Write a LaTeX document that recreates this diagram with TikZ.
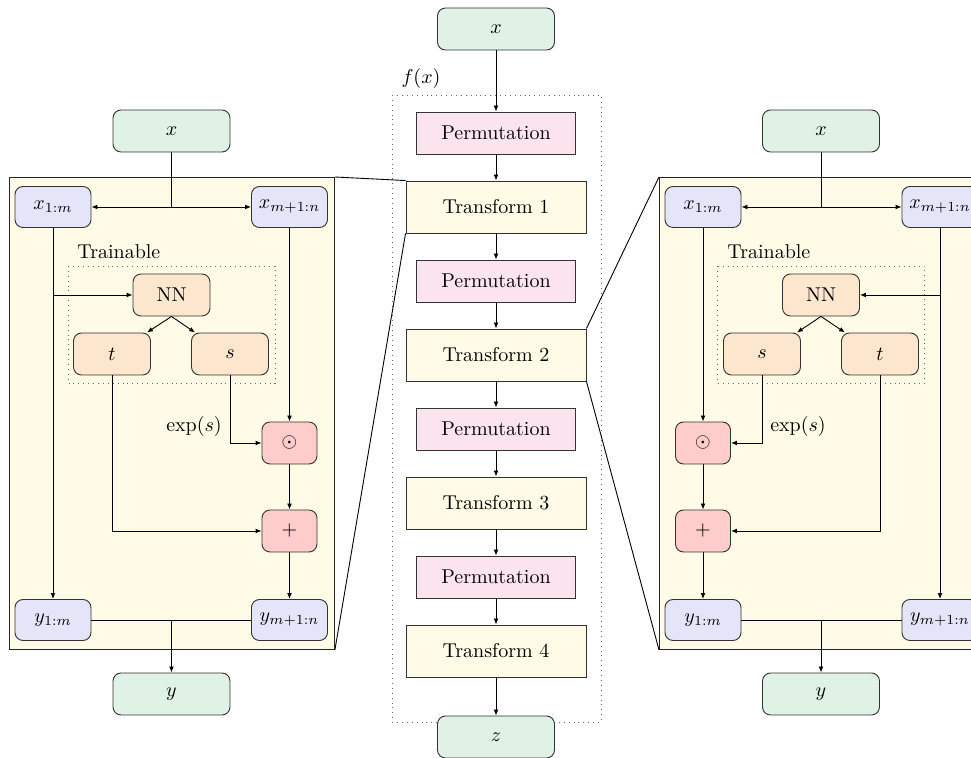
\documentclass[tikz,border=0pt]{standalone}
\usetikzlibrary{arrows.meta,calc}
\definecolor{iogreen}{RGB}{224,241,229}
\definecolor{varblue}{RGB}{229,229,250}
\definecolor{nnorange}{RGB}{253,230,206}
\definecolor{opred}{RGB}{255,204,204}
\definecolor{permpink}{RGB}{252,228,238}
\definecolor{transyellow}{RGB}{255,251,230}
\begin{document}
\begin{tikzpicture}[x=0.5pt,y=-0.5pt,line width=0.45pt,
  >={Latex[length=3pt,width=2.4pt]},
  base/.style={draw=black!80, rounded corners=4pt, align=center, inner sep=0pt},
  iobox/.style={base, fill=iogreen, minimum width=58.5pt, minimum height=21pt},
  varbox/.style={base, fill=varblue, minimum width=38pt, minimum height=20.5pt},
  nnbox/.style={base, fill=nnorange, minimum width=38.5pt, minimum height=21pt},
  opbox/.style={base, fill=opred, minimum width=27.5pt, minimum height=21pt},
  permbox/.style={draw=black!80, fill=permpink, minimum width=79.5pt, minimum height=21pt, inner sep=0pt},
  transbox/.style={draw=black!80, fill=transyellow, minimum width=90pt, minimum height=26pt, inner sep=0pt},
  panel/.style={draw=black!85, fill=transyellow, inner sep=0pt, minimum width=162.5pt, minimum height=236pt, anchor=north west},
  trainbox/.style={draw=black!60, dotted},
  lbl/.style={inner sep=0pt},
]
\useasboundingbox (0,0) rectangle (971,758);
\clip (0,0) rectangle (971,758);

% ---------- panels ----------
\node[panel] (panelL) at (9,177) {};
\node[panel] (panelR) at (659,177) {};

% ---------- centre column ----------
\draw[trainbox] (392,95) rectangle (601,722);
\node[lbl] (fx) at (421,79) {$f(x)$};
\node[iobox] (Cx) at (496,29) {$x$};
\node[permbox] (P1) at (496,133) {Permutation};
\node[transbox] (T1) at (496,207) {Transform 1};
\node[permbox] (P2) at (496,281) {Permutation};
\node[transbox] (T2) at (496,355) {Transform 2};
\node[permbox] (P3) at (496,429) {Permutation};
\node[transbox] (T3) at (496,503) {Transform 3};
\node[permbox] (P4) at (496,577) {Permutation};
\node[transbox] (T4) at (496,651) {Transform 4};
\node[iobox] (Cz) at (496,737) {$z$};
\draw[->] (Cx) -- (P1);
\draw[->] (P1) -- (T1);
\draw[->] (T1) -- (P2);
\draw[->] (P2) -- (T2);
\draw[->] (T2) -- (P3);
\draw[->] (P3) -- (T3);
\draw[->] (T3) -- (P4);
\draw[->] (P4) -- (T4);
\draw[->] (T4) -- (Cz);

% zoom lines
\draw (panelL.north east) -- (T1.north west);
\draw (panelL.south east) -- (T1.south west);
\draw (panelR.north west) -- (T2.north east);
\draw (panelR.south west) -- (T2.south east);

% ---------- left panel ----------
\draw[trainbox] (68,266) rectangle (275,383);
\node[lbl, anchor=base west] (Ltrain) at (77,259) {Trainable};
\node[iobox] (Lx) at (171.5,131) {$x$};
\node[varbox] (Lx1) at (53,207) {$x_{1:m}$};
\node[varbox] (Lx2) at (289.5,207) {$x_{m+1:n}$};
\node[nnbox] (LNN) at (171.5,295) {NN};
\node[nnbox] (Lt) at (112,354) {$t$};
\node[nnbox] (Ls) at (230,354) {$s$};
\node[opbox] (Lmul) at (289.5,443) {$\odot$};
\node[opbox] (Ladd) at (289.5,531) {$+$};
\node[varbox] (Ly1) at (53,620) {$y_{1:m}$};
\node[varbox] (Ly2) at (289.5,620) {$y_{m+1:n}$};
\node[iobox] (Ly) at (171.5,694) {$y$};
\node[lbl] (Lexp) at (194,427) {$\exp(s)$};
\coordinate (Ljx) at (171.5,207);
\coordinate (Ljy) at (171.5,620);
\draw (Lx.south) -- (Ljx);
\draw[->] (Ljx) -- (Lx1.east);
\draw[->] (Ljx) -- (Lx2.west);
\draw[->] (Lx1.south) -- (Ly1.north);
\draw[->] (Lx1.south |- LNN.west) -- (LNN.west);
\draw[->] (LNN.south) -- ([xshift=-2pt]Lt.north east);
\draw[->] (LNN.south) -- ([xshift=2pt]Ls.north west);
\draw[->] (Lx2.south) -- (Lmul.north);
\draw[->] (Ls.south) |- (Lmul.west);
\draw[->] (Lmul.south) -- (Ladd.north);
\draw[->] (Lt.south) |- (Ladd.west);
\draw[->] (Ladd.south) -- (Ly2.north);
\draw (Ly1.east) -- (Ly2.west);
\draw[->] (Ljy) -- (Ly.north);

% ---------- right panel ----------
\draw[trainbox] (717.5,266) rectangle (924.5,383);
\node[lbl, anchor=base west] (Rtrain) at (727,259) {Trainable};
\node[iobox] (Rx) at (821,131) {$x$};
\node[varbox] (Rx1) at (703,207) {$x_{1:m}$};
\node[varbox] (Rx2) at (940,207) {$x_{m+1:n}$};
\node[nnbox] (RNN) at (821,295) {NN};
\node[nnbox] (Rs) at (762,354) {$s$};
\node[nnbox] (Rt) at (880,354) {$t$};
\node[opbox] (Rmul) at (703,443) {$\odot$};
\node[opbox] (Radd) at (703,531) {$+$};
\node[varbox] (Ry1) at (703,620) {$y_{1:m}$};
\node[varbox] (Ry2) at (940,620) {$y_{m+1:n}$};
\node[iobox] (Ry) at (821,694) {$y$};
\node[lbl] (Rexp) at (798,427) {$\exp(s)$};
\coordinate (Rjx) at (821,207);
\coordinate (Rjy) at (821,620);
\draw (Rx.south) -- (Rjx);
\draw[->] (Rjx) -- (Rx1.east);
\draw[->] (Rjx) -- (Rx2.west);
\draw[->] (Rx2.south) -- (Ry2.north);
\draw[->] (Rx2.south |- RNN.east) -- (RNN.east);
\draw[->] (RNN.south) -- ([xshift=-2pt]Rs.north east);
\draw[->] (RNN.south) -- ([xshift=2pt]Rt.north west);
\draw[->] (Rx1.south) -- (Rmul.north);
\draw[->] (Rs.south) |- (Rmul.east);
\draw[->] (Rmul.south) -- (Radd.north);
\draw[->] (Rt.south) |- (Radd.east);
\draw[->] (Radd.south) -- (Ry1.north);
\draw (Ry1.east) -- (Ry2.west);
\draw[->] (Rjy) -- (Ry.north);
\end{tikzpicture}
\end{document}
